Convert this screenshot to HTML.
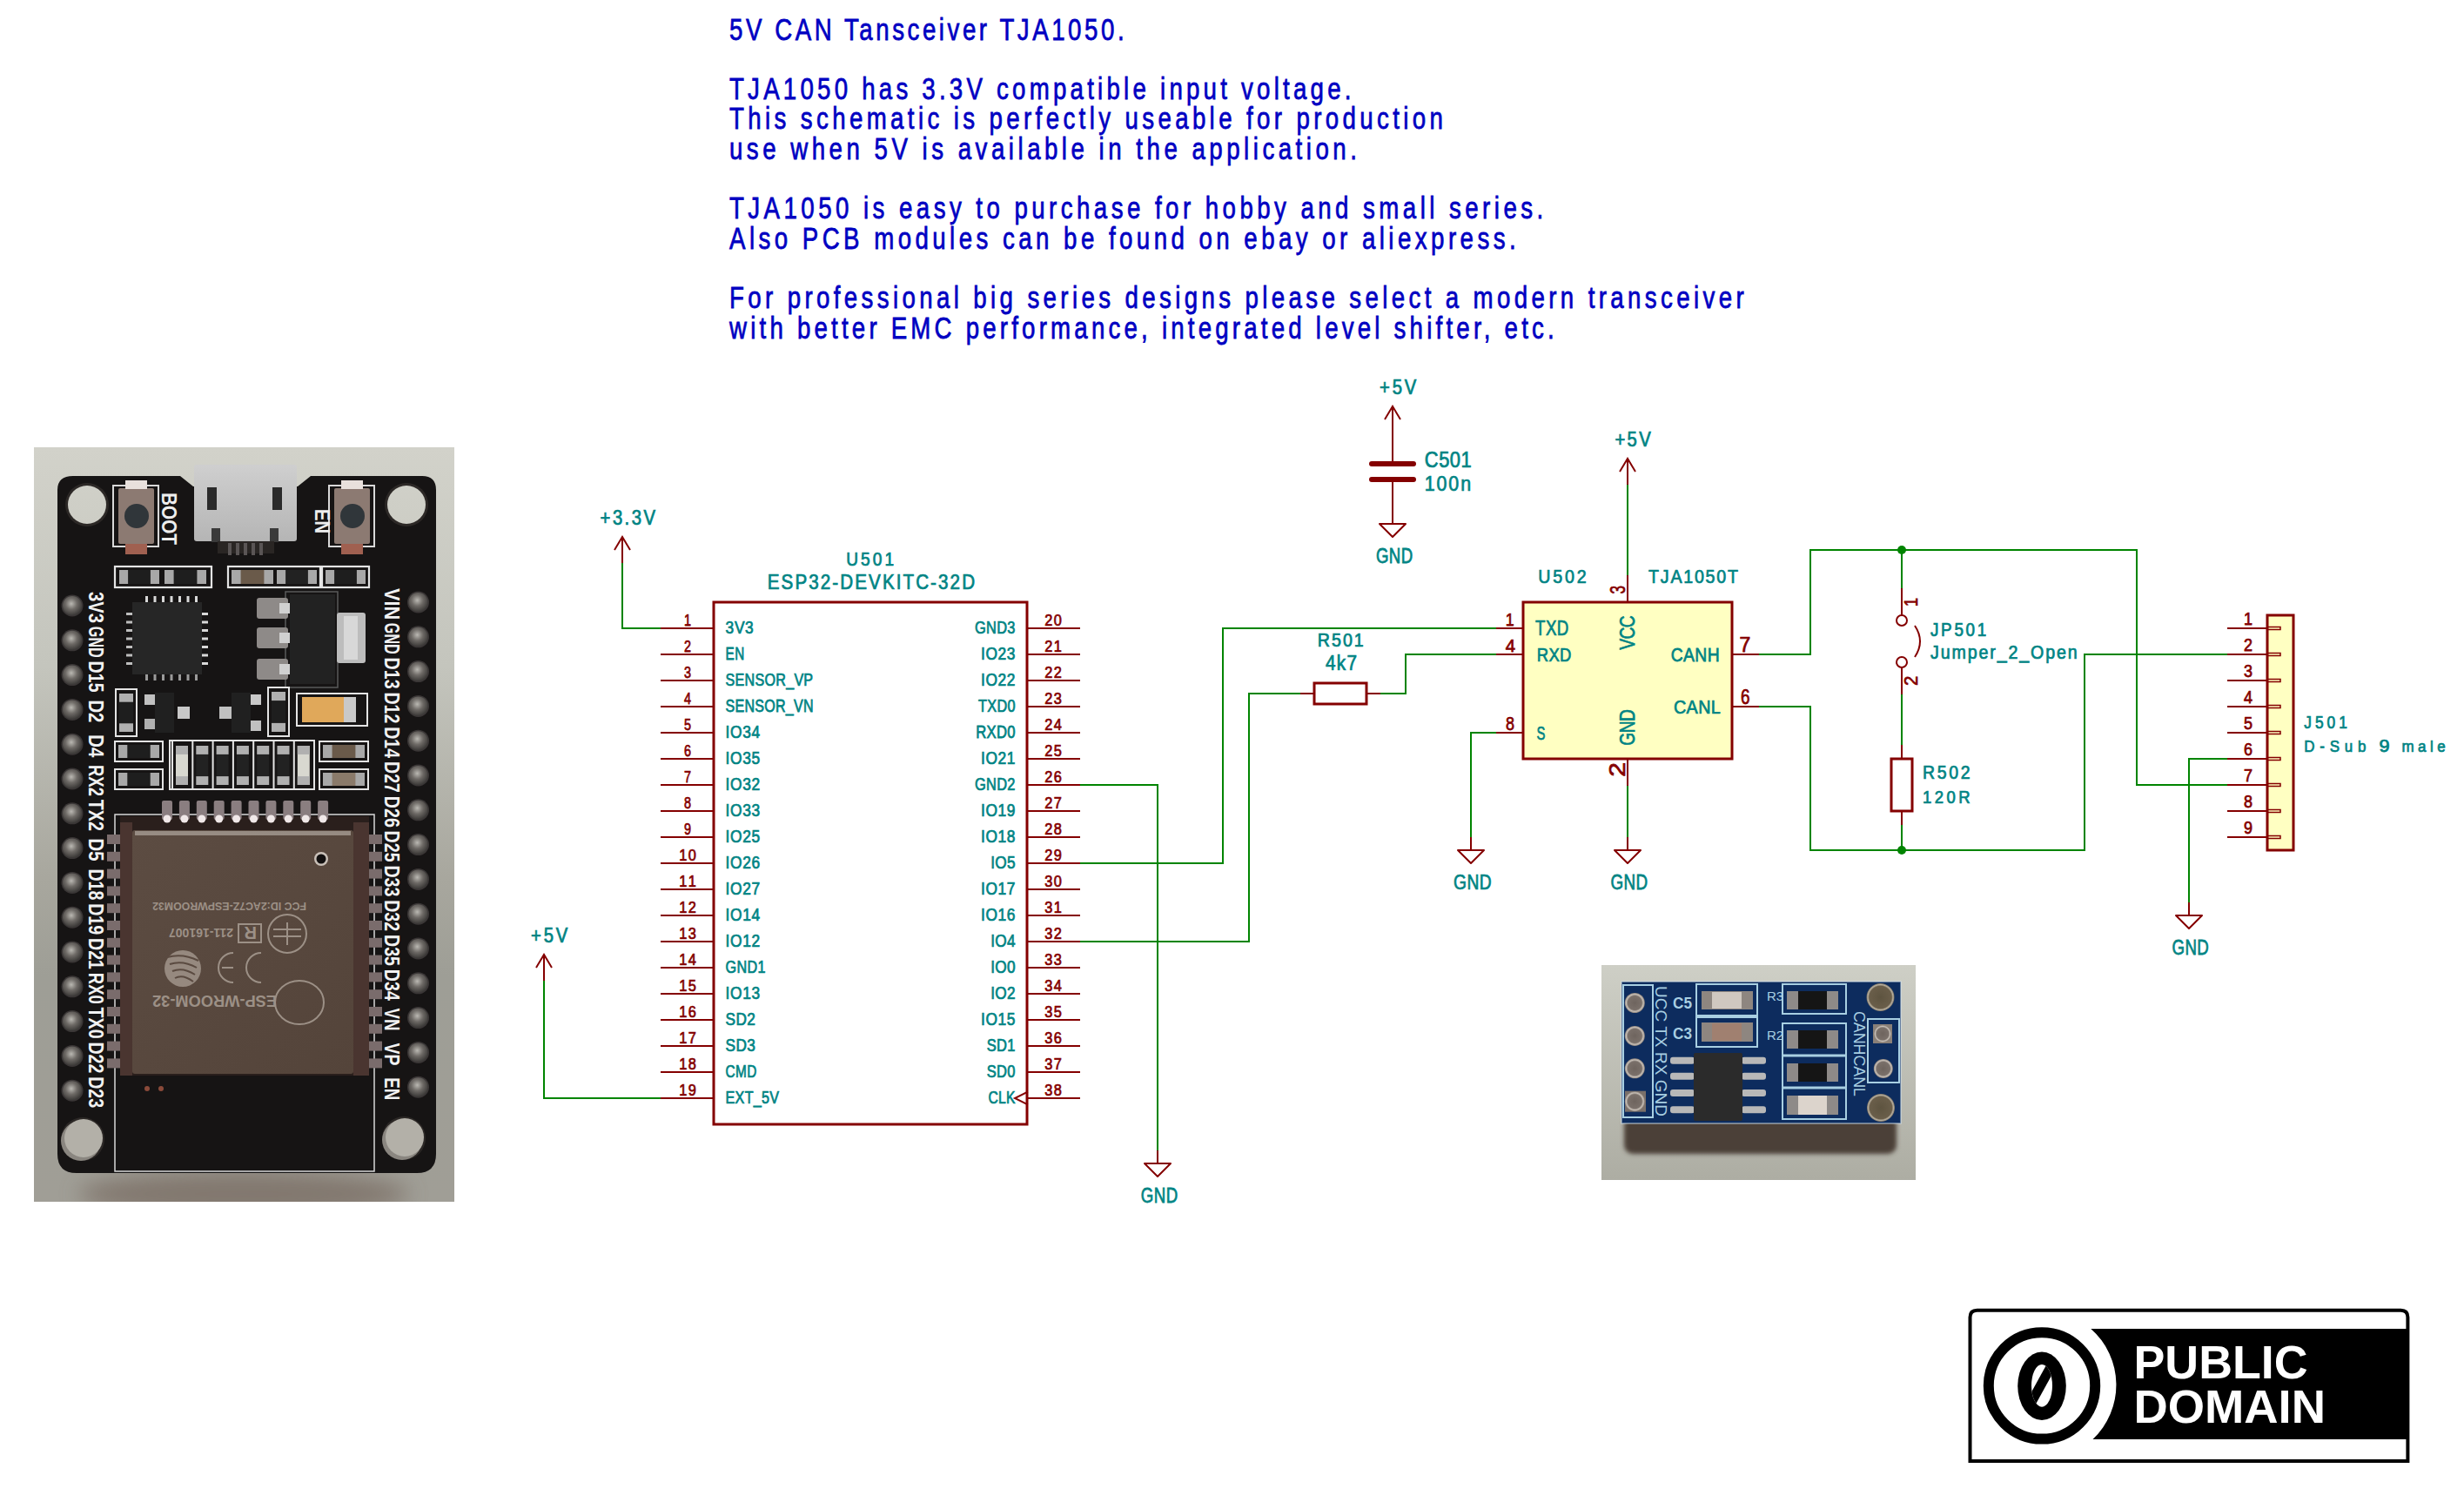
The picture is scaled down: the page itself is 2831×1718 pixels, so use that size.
<!DOCTYPE html><html><head><meta charset="utf-8"><style>html,body{margin:0;padding:0;background:#fff;width:2831px;height:1718px;overflow:hidden;position:relative}text{font-family:"Liberation Sans",sans-serif}</style></head><body><svg width="2831" height="1718" viewBox="0 0 2831 1718" style="position:absolute;left:0;top:0" font-family="Liberation Sans, sans-serif">
<rect x="0" y="0" width="2831" height="1718" fill="#ffffff"/>
<text transform="translate(838.0,45.5) scale(0.8,1)" x="0" y="0" font-size="34.57" fill="#0000C2" stroke="#0000C2" stroke-width="0.76" textLength="567.0" lengthAdjust="spacing" >5V CAN Tansceiver TJA1050.</text>
<text transform="translate(838.0,114.1) scale(0.8,1)" x="0" y="0" font-size="34.57" fill="#0000C2" stroke="#0000C2" stroke-width="0.76" textLength="893.1" lengthAdjust="spacing" >TJA1050 has 3.3V compatible input voltage.</text>
<text transform="translate(838.0,148.4) scale(0.8,1)" x="0" y="0" font-size="34.57" fill="#0000C2" stroke="#0000C2" stroke-width="0.76" textLength="1024.9" lengthAdjust="spacing" >This schematic is perfectly useable for production</text>
<text transform="translate(838.0,182.7) scale(0.8,1)" x="0" y="0" font-size="34.57" fill="#0000C2" stroke="#0000C2" stroke-width="0.76" textLength="901.1" lengthAdjust="spacing" >use when 5V is available in the application.</text>
<text transform="translate(838.0,251.3) scale(0.8,1)" x="0" y="0" font-size="34.57" fill="#0000C2" stroke="#0000C2" stroke-width="0.76" textLength="1169.0" lengthAdjust="spacing" >TJA1050 is easy to purchase for hobby and small series.</text>
<text transform="translate(838.0,285.6) scale(0.8,1)" x="0" y="0" font-size="34.57" fill="#0000C2" stroke="#0000C2" stroke-width="0.76" textLength="1129.6" lengthAdjust="spacing" >Also PCB modules can be found on ebay or aliexpress.</text>
<text transform="translate(838.0,354.2) scale(0.8,1)" x="0" y="0" font-size="34.57" fill="#0000C2" stroke="#0000C2" stroke-width="0.76" textLength="1457.1" lengthAdjust="spacing" >For professional big series designs please select a modern transceiver</text>
<text transform="translate(838.0,388.5) scale(0.8,1)" x="0" y="0" font-size="34.57" fill="#0000C2" stroke="#0000C2" stroke-width="0.76" textLength="1184.7" lengthAdjust="spacing" >with better EMC performance, integrated level shifter, etc.</text>
<polyline points="715,647 715,722 760,722" fill="none" stroke="#008400" stroke-width="2" stroke-linecap="square" stroke-linejoin="miter" />
<polyline points="625,1127 625,1262 760,1262" fill="none" stroke="#008400" stroke-width="2" stroke-linecap="square" stroke-linejoin="miter" />
<polyline points="1240,902 1330,902 1330,1322" fill="none" stroke="#008400" stroke-width="2" stroke-linecap="square" stroke-linejoin="miter" />
<polyline points="1240,992 1405,992 1405,722 1720,722" fill="none" stroke="#008400" stroke-width="2" stroke-linecap="square" stroke-linejoin="miter" />
<polyline points="1240,1082 1435,1082 1435,797 1495,797" fill="none" stroke="#008400" stroke-width="2" stroke-linecap="square" stroke-linejoin="miter" />
<polyline points="1585,797 1615,797 1615,752 1720,752" fill="none" stroke="#008400" stroke-width="2" stroke-linecap="square" stroke-linejoin="miter" />
<polyline points="1720,842 1690,842 1690,962" fill="none" stroke="#008400" stroke-width="2" stroke-linecap="square" stroke-linejoin="miter" />
<polyline points="1870,662 1870,557" fill="none" stroke="#008400" stroke-width="2" stroke-linecap="square" stroke-linejoin="miter" />
<polyline points="1870,902 1870,962" fill="none" stroke="#008400" stroke-width="2" stroke-linecap="square" stroke-linejoin="miter" />
<polyline points="2020,752 2080,752 2080,632 2455,632 2455,902 2560,902" fill="none" stroke="#008400" stroke-width="2" stroke-linecap="square" stroke-linejoin="miter" />
<polyline points="2185,632 2185,677" fill="none" stroke="#008400" stroke-width="2" stroke-linecap="square" stroke-linejoin="miter" />
<polyline points="2185,797 2185,857" fill="none" stroke="#008400" stroke-width="2" stroke-linecap="square" stroke-linejoin="miter" />
<polyline points="2185,947 2185,977" fill="none" stroke="#008400" stroke-width="2" stroke-linecap="square" stroke-linejoin="miter" />
<polyline points="2020,812 2080,812 2080,977 2395,977 2395,752 2560,752" fill="none" stroke="#008400" stroke-width="2" stroke-linecap="square" stroke-linejoin="miter" />
<polyline points="2560,872 2515,872 2515,1037" fill="none" stroke="#008400" stroke-width="2" stroke-linecap="square" stroke-linejoin="miter" />
<circle cx="2185" cy="632" r="5" fill="#008400"/>
<circle cx="2185" cy="977" r="5" fill="#008400"/>
<rect x="820" y="692" width="360" height="600" fill="none" stroke="#840000" stroke-width="3"/>
<polyline points="760,722 820,722" fill="none" stroke="#840000" stroke-width="2" stroke-linecap="square" stroke-linejoin="miter" stroke-linecap="butt"/>
<text transform="translate(833.6,727.8) scale(0.88,1)" x="0" y="0" font-size="19.71" fill="#008484" stroke="#008484" stroke-width="0.75" textLength="36.5" lengthAdjust="spacing" >3V3</text>
<text x="786.0" y="719.0" font-size="18.57" fill="#840000" stroke="#840000" stroke-width="0.75" textLength="8.0" lengthAdjust="spacingAndGlyphs" >1</text>
<polyline points="760,752 820,752" fill="none" stroke="#840000" stroke-width="2" stroke-linecap="square" stroke-linejoin="miter" stroke-linecap="butt"/>
<text transform="translate(833.6,757.8) scale(0.7729086081186185,1)" x="0" y="0" font-size="19.71" fill="#008484" stroke="#008484" stroke-width="0.75" textLength="27.9" lengthAdjust="spacing" >EN</text>
<text x="786.0" y="749.0" font-size="18.57" fill="#840000" stroke="#840000" stroke-width="0.75" textLength="8.0" lengthAdjust="spacingAndGlyphs" >2</text>
<polyline points="760,782 820,782" fill="none" stroke="#840000" stroke-width="2" stroke-linecap="square" stroke-linejoin="miter" stroke-linecap="butt"/>
<text transform="translate(833.6,787.8) scale(0.817194837637157,1)" x="0" y="0" font-size="19.71" fill="#008484" stroke="#008484" stroke-width="0.75" textLength="123.0" lengthAdjust="spacing" >SENSOR_VP</text>
<text x="786.0" y="779.0" font-size="18.57" fill="#840000" stroke="#840000" stroke-width="0.75" textLength="8.0" lengthAdjust="spacingAndGlyphs" >3</text>
<polyline points="760,812 820,812" fill="none" stroke="#840000" stroke-width="2" stroke-linecap="square" stroke-linejoin="miter" stroke-linecap="butt"/>
<text transform="translate(833.6,817.8) scale(0.8131113551104611,1)" x="0" y="0" font-size="19.71" fill="#008484" stroke="#008484" stroke-width="0.75" textLength="124.1" lengthAdjust="spacing" >SENSOR_VN</text>
<text x="786.0" y="809.0" font-size="18.57" fill="#840000" stroke="#840000" stroke-width="0.75" textLength="8.0" lengthAdjust="spacingAndGlyphs" >4</text>
<polyline points="760,842 820,842" fill="none" stroke="#840000" stroke-width="2" stroke-linecap="square" stroke-linejoin="miter" stroke-linecap="butt"/>
<text transform="translate(833.6,847.8) scale(0.88,1)" x="0" y="0" font-size="19.71" fill="#008484" stroke="#008484" stroke-width="0.75" textLength="44.9" lengthAdjust="spacing" >IO34</text>
<text x="786.0" y="839.0" font-size="18.57" fill="#840000" stroke="#840000" stroke-width="0.75" textLength="8.0" lengthAdjust="spacingAndGlyphs" >5</text>
<polyline points="760,872 820,872" fill="none" stroke="#840000" stroke-width="2" stroke-linecap="square" stroke-linejoin="miter" stroke-linecap="butt"/>
<text transform="translate(833.6,877.8) scale(0.88,1)" x="0" y="0" font-size="19.71" fill="#008484" stroke="#008484" stroke-width="0.75" textLength="44.9" lengthAdjust="spacing" >IO35</text>
<text x="786.0" y="869.0" font-size="18.57" fill="#840000" stroke="#840000" stroke-width="0.75" textLength="8.0" lengthAdjust="spacingAndGlyphs" >6</text>
<polyline points="760,902 820,902" fill="none" stroke="#840000" stroke-width="2" stroke-linecap="square" stroke-linejoin="miter" stroke-linecap="butt"/>
<text transform="translate(833.6,907.8) scale(0.88,1)" x="0" y="0" font-size="19.71" fill="#008484" stroke="#008484" stroke-width="0.75" textLength="44.9" lengthAdjust="spacing" >IO32</text>
<text x="786.0" y="899.0" font-size="18.57" fill="#840000" stroke="#840000" stroke-width="0.75" textLength="8.0" lengthAdjust="spacingAndGlyphs" >7</text>
<polyline points="760,932 820,932" fill="none" stroke="#840000" stroke-width="2" stroke-linecap="square" stroke-linejoin="miter" stroke-linecap="butt"/>
<text transform="translate(833.6,937.8) scale(0.88,1)" x="0" y="0" font-size="19.71" fill="#008484" stroke="#008484" stroke-width="0.75" textLength="44.9" lengthAdjust="spacing" >IO33</text>
<text x="786.0" y="929.0" font-size="18.57" fill="#840000" stroke="#840000" stroke-width="0.75" textLength="8.0" lengthAdjust="spacingAndGlyphs" >8</text>
<polyline points="760,962 820,962" fill="none" stroke="#840000" stroke-width="2" stroke-linecap="square" stroke-linejoin="miter" stroke-linecap="butt"/>
<text transform="translate(833.6,967.8) scale(0.88,1)" x="0" y="0" font-size="19.71" fill="#008484" stroke="#008484" stroke-width="0.75" textLength="44.9" lengthAdjust="spacing" >IO25</text>
<text x="786.0" y="959.0" font-size="18.57" fill="#840000" stroke="#840000" stroke-width="0.75" textLength="8.0" lengthAdjust="spacingAndGlyphs" >9</text>
<polyline points="760,992 820,992" fill="none" stroke="#840000" stroke-width="2" stroke-linecap="square" stroke-linejoin="miter" stroke-linecap="butt"/>
<text transform="translate(833.6,997.8) scale(0.88,1)" x="0" y="0" font-size="19.71" fill="#008484" stroke="#008484" stroke-width="0.75" textLength="44.9" lengthAdjust="spacing" >IO26</text>
<text transform="translate(780.2,989.0) scale(0.88,1)" x="0" y="0" font-size="18.57" fill="#840000" stroke="#840000" stroke-width="0.75" textLength="22.2" lengthAdjust="spacing" >10</text>
<polyline points="760,1022 820,1022" fill="none" stroke="#840000" stroke-width="2" stroke-linecap="square" stroke-linejoin="miter" stroke-linecap="butt"/>
<text transform="translate(833.6,1027.8) scale(0.88,1)" x="0" y="0" font-size="19.71" fill="#008484" stroke="#008484" stroke-width="0.75" textLength="44.9" lengthAdjust="spacing" >IO27</text>
<text transform="translate(780.2,1019.0) scale(0.88,1)" x="0" y="0" font-size="18.57" fill="#840000" stroke="#840000" stroke-width="0.75" textLength="22.2" lengthAdjust="spacing" >11</text>
<polyline points="760,1052 820,1052" fill="none" stroke="#840000" stroke-width="2" stroke-linecap="square" stroke-linejoin="miter" stroke-linecap="butt"/>
<text transform="translate(833.6,1057.8) scale(0.88,1)" x="0" y="0" font-size="19.71" fill="#008484" stroke="#008484" stroke-width="0.75" textLength="44.9" lengthAdjust="spacing" >IO14</text>
<text transform="translate(780.2,1049.0) scale(0.88,1)" x="0" y="0" font-size="18.57" fill="#840000" stroke="#840000" stroke-width="0.75" textLength="22.2" lengthAdjust="spacing" >12</text>
<polyline points="760,1082 820,1082" fill="none" stroke="#840000" stroke-width="2" stroke-linecap="square" stroke-linejoin="miter" stroke-linecap="butt"/>
<text transform="translate(833.6,1087.8) scale(0.88,1)" x="0" y="0" font-size="19.71" fill="#008484" stroke="#008484" stroke-width="0.75" textLength="44.9" lengthAdjust="spacing" >IO12</text>
<text transform="translate(780.2,1079.0) scale(0.88,1)" x="0" y="0" font-size="18.57" fill="#840000" stroke="#840000" stroke-width="0.75" textLength="22.2" lengthAdjust="spacing" >13</text>
<polyline points="760,1112 820,1112" fill="none" stroke="#840000" stroke-width="2" stroke-linecap="square" stroke-linejoin="miter" stroke-linecap="butt"/>
<text transform="translate(833.6,1117.8) scale(0.8212615811210328,1)" x="0" y="0" font-size="19.71" fill="#008484" stroke="#008484" stroke-width="0.75" textLength="55.9" lengthAdjust="spacing" >GND1</text>
<text transform="translate(780.2,1109.0) scale(0.88,1)" x="0" y="0" font-size="18.57" fill="#840000" stroke="#840000" stroke-width="0.75" textLength="22.2" lengthAdjust="spacing" >14</text>
<polyline points="760,1142 820,1142" fill="none" stroke="#840000" stroke-width="2" stroke-linecap="square" stroke-linejoin="miter" stroke-linecap="butt"/>
<text transform="translate(833.6,1147.8) scale(0.88,1)" x="0" y="0" font-size="19.71" fill="#008484" stroke="#008484" stroke-width="0.75" textLength="44.9" lengthAdjust="spacing" >IO13</text>
<text transform="translate(780.2,1139.0) scale(0.88,1)" x="0" y="0" font-size="18.57" fill="#840000" stroke="#840000" stroke-width="0.75" textLength="22.2" lengthAdjust="spacing" >15</text>
<polyline points="760,1172 820,1172" fill="none" stroke="#840000" stroke-width="2" stroke-linecap="square" stroke-linejoin="miter" stroke-linecap="butt"/>
<text transform="translate(833.6,1177.8) scale(0.8739402828706166,1)" x="0" y="0" font-size="19.71" fill="#008484" stroke="#008484" stroke-width="0.75" textLength="39.1" lengthAdjust="spacing" >SD2</text>
<text transform="translate(780.2,1169.0) scale(0.88,1)" x="0" y="0" font-size="18.57" fill="#840000" stroke="#840000" stroke-width="0.75" textLength="22.2" lengthAdjust="spacing" >16</text>
<polyline points="760,1202 820,1202" fill="none" stroke="#840000" stroke-width="2" stroke-linecap="square" stroke-linejoin="miter" stroke-linecap="butt"/>
<text transform="translate(833.6,1207.8) scale(0.8739402828706166,1)" x="0" y="0" font-size="19.71" fill="#008484" stroke="#008484" stroke-width="0.75" textLength="39.1" lengthAdjust="spacing" >SD3</text>
<text transform="translate(780.2,1199.0) scale(0.88,1)" x="0" y="0" font-size="18.57" fill="#840000" stroke="#840000" stroke-width="0.75" textLength="22.2" lengthAdjust="spacing" >17</text>
<polyline points="760,1232 820,1232" fill="none" stroke="#840000" stroke-width="2" stroke-linecap="square" stroke-linejoin="miter" stroke-linecap="butt"/>
<text transform="translate(833.6,1237.8) scale(0.7792640763666229,1)" x="0" y="0" font-size="19.71" fill="#008484" stroke="#008484" stroke-width="0.75" textLength="45.8" lengthAdjust="spacing" >CMD</text>
<text transform="translate(780.2,1229.0) scale(0.88,1)" x="0" y="0" font-size="18.57" fill="#840000" stroke="#840000" stroke-width="0.75" textLength="22.2" lengthAdjust="spacing" >18</text>
<polyline points="760,1262 820,1262" fill="none" stroke="#840000" stroke-width="2" stroke-linecap="square" stroke-linejoin="miter" stroke-linecap="butt"/>
<text transform="translate(833.6,1267.8) scale(0.819589601020588,1)" x="0" y="0" font-size="19.71" fill="#008484" stroke="#008484" stroke-width="0.75" textLength="74.9" lengthAdjust="spacing" >EXT_5V</text>
<text transform="translate(780.2,1259.0) scale(0.88,1)" x="0" y="0" font-size="18.57" fill="#840000" stroke="#840000" stroke-width="0.75" textLength="22.2" lengthAdjust="spacing" >19</text>
<polyline points="1180,722 1240,722" fill="none" stroke="#840000" stroke-width="2" stroke-linecap="square" stroke-linejoin="miter" stroke-linecap="butt"/>
<text transform="translate(1120.0,727.8) scale(0.8319970266258833,1)" x="0" y="0" font-size="19.71" fill="#008484" stroke="#008484" stroke-width="0.75" textLength="55.9" lengthAdjust="spacing" >GND3</text>
<text transform="translate(1200.2,719.0) scale(0.88,1)" x="0" y="0" font-size="18.57" fill="#840000" stroke="#840000" stroke-width="0.75" textLength="22.2" lengthAdjust="spacing" >20</text>
<polyline points="1180,752 1240,752" fill="none" stroke="#840000" stroke-width="2" stroke-linecap="square" stroke-linejoin="miter" stroke-linecap="butt"/>
<text transform="translate(1127.0,757.8) scale(0.88,1)" x="0" y="0" font-size="19.71" fill="#008484" stroke="#008484" stroke-width="0.75" textLength="44.9" lengthAdjust="spacing" >IO23</text>
<text transform="translate(1200.2,749.0) scale(0.88,1)" x="0" y="0" font-size="18.57" fill="#840000" stroke="#840000" stroke-width="0.75" textLength="22.2" lengthAdjust="spacing" >21</text>
<polyline points="1180,782 1240,782" fill="none" stroke="#840000" stroke-width="2" stroke-linecap="square" stroke-linejoin="miter" stroke-linecap="butt"/>
<text transform="translate(1127.0,787.8) scale(0.88,1)" x="0" y="0" font-size="19.71" fill="#008484" stroke="#008484" stroke-width="0.75" textLength="44.9" lengthAdjust="spacing" >IO22</text>
<text transform="translate(1200.2,779.0) scale(0.88,1)" x="0" y="0" font-size="18.57" fill="#840000" stroke="#840000" stroke-width="0.75" textLength="22.2" lengthAdjust="spacing" >22</text>
<polyline points="1180,812 1240,812" fill="none" stroke="#840000" stroke-width="2" stroke-linecap="square" stroke-linejoin="miter" stroke-linecap="butt"/>
<text transform="translate(1124.1,817.8) scale(0.8245824883878173,1)" x="0" y="0" font-size="19.71" fill="#008484" stroke="#008484" stroke-width="0.75" textLength="51.4" lengthAdjust="spacing" >TXD0</text>
<text transform="translate(1200.2,809.0) scale(0.88,1)" x="0" y="0" font-size="18.57" fill="#840000" stroke="#840000" stroke-width="0.75" textLength="22.2" lengthAdjust="spacing" >23</text>
<polyline points="1180,842 1240,842" fill="none" stroke="#840000" stroke-width="2" stroke-linecap="square" stroke-linejoin="miter" stroke-linecap="butt"/>
<text transform="translate(1121.2,847.8) scale(0.8441872784320136,1)" x="0" y="0" font-size="19.71" fill="#008484" stroke="#008484" stroke-width="0.75" textLength="53.7" lengthAdjust="spacing" >RXD0</text>
<text transform="translate(1200.2,839.0) scale(0.88,1)" x="0" y="0" font-size="18.57" fill="#840000" stroke="#840000" stroke-width="0.75" textLength="22.2" lengthAdjust="spacing" >24</text>
<polyline points="1180,872 1240,872" fill="none" stroke="#840000" stroke-width="2" stroke-linecap="square" stroke-linejoin="miter" stroke-linecap="butt"/>
<text transform="translate(1127.0,877.8) scale(0.88,1)" x="0" y="0" font-size="19.71" fill="#008484" stroke="#008484" stroke-width="0.75" textLength="44.9" lengthAdjust="spacing" >IO21</text>
<text transform="translate(1200.2,869.0) scale(0.88,1)" x="0" y="0" font-size="18.57" fill="#840000" stroke="#840000" stroke-width="0.75" textLength="22.2" lengthAdjust="spacing" >25</text>
<polyline points="1180,902 1240,902" fill="none" stroke="#840000" stroke-width="2" stroke-linecap="square" stroke-linejoin="miter" stroke-linecap="butt"/>
<text transform="translate(1120.0,907.8) scale(0.8319970266258833,1)" x="0" y="0" font-size="19.71" fill="#008484" stroke="#008484" stroke-width="0.75" textLength="55.9" lengthAdjust="spacing" >GND2</text>
<text transform="translate(1200.2,899.0) scale(0.88,1)" x="0" y="0" font-size="18.57" fill="#840000" stroke="#840000" stroke-width="0.75" textLength="22.2" lengthAdjust="spacing" >26</text>
<polyline points="1180,932 1240,932" fill="none" stroke="#840000" stroke-width="2" stroke-linecap="square" stroke-linejoin="miter" stroke-linecap="butt"/>
<text transform="translate(1127.0,937.8) scale(0.88,1)" x="0" y="0" font-size="19.71" fill="#008484" stroke="#008484" stroke-width="0.75" textLength="44.9" lengthAdjust="spacing" >IO19</text>
<text transform="translate(1200.2,929.0) scale(0.88,1)" x="0" y="0" font-size="18.57" fill="#840000" stroke="#840000" stroke-width="0.75" textLength="22.2" lengthAdjust="spacing" >27</text>
<polyline points="1180,962 1240,962" fill="none" stroke="#840000" stroke-width="2" stroke-linecap="square" stroke-linejoin="miter" stroke-linecap="butt"/>
<text transform="translate(1127.0,967.8) scale(0.88,1)" x="0" y="0" font-size="19.71" fill="#008484" stroke="#008484" stroke-width="0.75" textLength="44.9" lengthAdjust="spacing" >IO18</text>
<text transform="translate(1200.2,959.0) scale(0.88,1)" x="0" y="0" font-size="18.57" fill="#840000" stroke="#840000" stroke-width="0.75" textLength="22.2" lengthAdjust="spacing" >28</text>
<polyline points="1180,992 1240,992" fill="none" stroke="#840000" stroke-width="2" stroke-linecap="square" stroke-linejoin="miter" stroke-linecap="butt"/>
<text transform="translate(1138.2,997.8) scale(0.8728552059404147,1)" x="0" y="0" font-size="19.71" fill="#008484" stroke="#008484" stroke-width="0.75" textLength="32.4" lengthAdjust="spacing" >IO5</text>
<text transform="translate(1200.2,989.0) scale(0.88,1)" x="0" y="0" font-size="18.57" fill="#840000" stroke="#840000" stroke-width="0.75" textLength="22.2" lengthAdjust="spacing" >29</text>
<polyline points="1180,1022 1240,1022" fill="none" stroke="#840000" stroke-width="2" stroke-linecap="square" stroke-linejoin="miter" stroke-linecap="butt"/>
<text transform="translate(1127.0,1027.8) scale(0.88,1)" x="0" y="0" font-size="19.71" fill="#008484" stroke="#008484" stroke-width="0.75" textLength="44.9" lengthAdjust="spacing" >IO17</text>
<text transform="translate(1200.2,1019.0) scale(0.88,1)" x="0" y="0" font-size="18.57" fill="#840000" stroke="#840000" stroke-width="0.75" textLength="22.2" lengthAdjust="spacing" >30</text>
<polyline points="1180,1052 1240,1052" fill="none" stroke="#840000" stroke-width="2" stroke-linecap="square" stroke-linejoin="miter" stroke-linecap="butt"/>
<text transform="translate(1127.0,1057.8) scale(0.88,1)" x="0" y="0" font-size="19.71" fill="#008484" stroke="#008484" stroke-width="0.75" textLength="44.9" lengthAdjust="spacing" >IO16</text>
<text transform="translate(1200.2,1049.0) scale(0.88,1)" x="0" y="0" font-size="18.57" fill="#840000" stroke="#840000" stroke-width="0.75" textLength="22.2" lengthAdjust="spacing" >31</text>
<polyline points="1180,1082 1240,1082" fill="none" stroke="#840000" stroke-width="2" stroke-linecap="square" stroke-linejoin="miter" stroke-linecap="butt"/>
<text transform="translate(1138.2,1087.8) scale(0.8728552059404147,1)" x="0" y="0" font-size="19.71" fill="#008484" stroke="#008484" stroke-width="0.75" textLength="32.4" lengthAdjust="spacing" >IO4</text>
<text transform="translate(1200.2,1079.0) scale(0.88,1)" x="0" y="0" font-size="18.57" fill="#840000" stroke="#840000" stroke-width="0.75" textLength="22.2" lengthAdjust="spacing" >32</text>
<polyline points="1180,1112 1240,1112" fill="none" stroke="#840000" stroke-width="2" stroke-linecap="square" stroke-linejoin="miter" stroke-linecap="butt"/>
<text transform="translate(1138.2,1117.8) scale(0.8728552059404147,1)" x="0" y="0" font-size="19.71" fill="#008484" stroke="#008484" stroke-width="0.75" textLength="32.4" lengthAdjust="spacing" >IO0</text>
<text transform="translate(1200.2,1109.0) scale(0.88,1)" x="0" y="0" font-size="18.57" fill="#840000" stroke="#840000" stroke-width="0.75" textLength="22.2" lengthAdjust="spacing" >33</text>
<polyline points="1180,1142 1240,1142" fill="none" stroke="#840000" stroke-width="2" stroke-linecap="square" stroke-linejoin="miter" stroke-linecap="butt"/>
<text transform="translate(1138.2,1147.8) scale(0.8728552059404147,1)" x="0" y="0" font-size="19.71" fill="#008484" stroke="#008484" stroke-width="0.75" textLength="32.4" lengthAdjust="spacing" >IO2</text>
<text transform="translate(1200.2,1139.0) scale(0.88,1)" x="0" y="0" font-size="18.57" fill="#840000" stroke="#840000" stroke-width="0.75" textLength="22.2" lengthAdjust="spacing" >34</text>
<polyline points="1180,1172 1240,1172" fill="none" stroke="#840000" stroke-width="2" stroke-linecap="square" stroke-linejoin="miter" stroke-linecap="butt"/>
<text transform="translate(1127.0,1177.8) scale(0.88,1)" x="0" y="0" font-size="19.71" fill="#008484" stroke="#008484" stroke-width="0.75" textLength="44.9" lengthAdjust="spacing" >IO15</text>
<text transform="translate(1200.2,1169.0) scale(0.88,1)" x="0" y="0" font-size="18.57" fill="#840000" stroke="#840000" stroke-width="0.75" textLength="22.2" lengthAdjust="spacing" >35</text>
<polyline points="1180,1202 1240,1202" fill="none" stroke="#840000" stroke-width="2" stroke-linecap="square" stroke-linejoin="miter" stroke-linecap="butt"/>
<text transform="translate(1133.8,1207.8) scale(0.8356095687096248,1)" x="0" y="0" font-size="19.71" fill="#008484" stroke="#008484" stroke-width="0.75" textLength="39.1" lengthAdjust="spacing" >SD1</text>
<text transform="translate(1200.2,1199.0) scale(0.88,1)" x="0" y="0" font-size="18.57" fill="#840000" stroke="#840000" stroke-width="0.75" textLength="22.2" lengthAdjust="spacing" >36</text>
<polyline points="1180,1232 1240,1232" fill="none" stroke="#840000" stroke-width="2" stroke-linecap="square" stroke-linejoin="miter" stroke-linecap="butt"/>
<text transform="translate(1133.8,1237.8) scale(0.8356095687096248,1)" x="0" y="0" font-size="19.71" fill="#008484" stroke="#008484" stroke-width="0.75" textLength="39.1" lengthAdjust="spacing" >SD0</text>
<text transform="translate(1200.2,1229.0) scale(0.88,1)" x="0" y="0" font-size="18.57" fill="#840000" stroke="#840000" stroke-width="0.75" textLength="22.2" lengthAdjust="spacing" >37</text>
<polyline points="1180,1262 1240,1262" fill="none" stroke="#840000" stroke-width="2" stroke-linecap="square" stroke-linejoin="miter" stroke-linecap="butt"/>
<text transform="translate(1135.5,1267.8) scale(0.7921680926604995,1)" x="0" y="0" font-size="19.71" fill="#008484" stroke="#008484" stroke-width="0.75" textLength="39.1" lengthAdjust="spacing" >CLK</text>
<text transform="translate(1200.2,1259.0) scale(0.88,1)" x="0" y="0" font-size="18.57" fill="#840000" stroke="#840000" stroke-width="0.75" textLength="22.2" lengthAdjust="spacing" >38</text>
<polyline points="1180,1255 1166,1262 1180,1269" fill="none" stroke="#840000" stroke-width="2" stroke-linecap="square" stroke-linejoin="miter" stroke-linecap="butt"/>
<text transform="translate(972.2,649.7) scale(0.88,1)" x="0" y="0" font-size="21.71" fill="#008484" stroke="#008484" stroke-width="0.75" textLength="62.4" lengthAdjust="spacing" >U501</text>
<text transform="translate(881.8,676.9) scale(0.88,1)" x="0" y="0" font-size="23.43" fill="#008484" stroke="#008484" stroke-width="0.75" textLength="270.7" lengthAdjust="spacing" >ESP32-DEVKITC-32D</text>
<rect x="1750" y="692" width="240" height="180" fill="#FFFFC2" stroke="#840000" stroke-width="3"/>
<polyline points="1720,722 1750,722" fill="none" stroke="#840000" stroke-width="2" stroke-linecap="square" stroke-linejoin="miter" stroke-linecap="butt"/>
<polyline points="1720,752 1750,752" fill="none" stroke="#840000" stroke-width="2" stroke-linecap="square" stroke-linejoin="miter" stroke-linecap="butt"/>
<polyline points="1720,842 1750,842" fill="none" stroke="#840000" stroke-width="2" stroke-linecap="square" stroke-linejoin="miter" stroke-linecap="butt"/>
<polyline points="1990,752 2020,752" fill="none" stroke="#840000" stroke-width="2" stroke-linecap="square" stroke-linejoin="miter" stroke-linecap="butt"/>
<polyline points="1990,812 2020,812" fill="none" stroke="#840000" stroke-width="2" stroke-linecap="square" stroke-linejoin="miter" stroke-linecap="butt"/>
<polyline points="1870,662 1870,692" fill="none" stroke="#840000" stroke-width="2" stroke-linecap="square" stroke-linejoin="miter" stroke-linecap="butt"/>
<polyline points="1870,872 1870,902" fill="none" stroke="#840000" stroke-width="2" stroke-linecap="square" stroke-linejoin="miter" stroke-linecap="butt"/>
<text transform="translate(1767.3,669.7) scale(0.88,1)" x="0" y="0" font-size="22.29" fill="#008484" stroke="#008484" stroke-width="0.75" textLength="63.0" lengthAdjust="spacing" >U502</text>
<text transform="translate(1894.1,669.7) scale(0.88,1)" x="0" y="0" font-size="22.29" fill="#008484" stroke="#008484" stroke-width="0.75" textLength="116.8" lengthAdjust="spacing" >TJA1050T</text>
<text transform="translate(1764.1,729.9) scale(0.775301775147931,1)" x="0" y="0" font-size="24.14" fill="#008484" stroke="#008484" stroke-width="0.75" textLength="49.3" lengthAdjust="spacing" >TXD</text>
<text transform="translate(1765.7,759.6) scale(0.8081935913564706,1)" x="0" y="0" font-size="22.86" fill="#008484" stroke="#008484" stroke-width="0.75" textLength="49.2" lengthAdjust="spacing" >RXD</text>
<text x="1765.4" y="849.5" font-size="22.86" fill="#008484" stroke="#008484" stroke-width="0.75" textLength="9.9" lengthAdjust="spacingAndGlyphs" >S</text>
<text transform="translate(1919.8,759.6) scale(0.8675085010568881,1)" x="0" y="0" font-size="22.29" fill="#008484" stroke="#008484" stroke-width="0.75" textLength="64.4" lengthAdjust="spacing" >CANH</text>
<text transform="translate(1923.0,819.5) scale(0.88,1)" x="0" y="0" font-size="22.43" fill="#008484" stroke="#008484" stroke-width="0.75" textLength="61.1" lengthAdjust="spacing" >CANL</text>
<text transform="translate(1878.0,746.8) rotate(-90) scale(0.8,1)" x="0" y="0" font-size="24.00" fill="#008484" stroke="#008484" stroke-width="0.75" textLength="49.2" lengthAdjust="spacing">VCC</text>
<text transform="translate(1878.0,856.7) rotate(-90) scale(0.8,1)" x="0" y="0" font-size="24.00" fill="#008484" stroke="#008484" stroke-width="0.75" textLength="52.1" lengthAdjust="spacing">GND</text>
<text x="1729.7" y="718.6" font-size="20.86" fill="#840000" stroke="#840000" stroke-width="0.75" textLength="9.9" lengthAdjust="spacingAndGlyphs" >1</text>
<text x="1729.7" y="748.8" font-size="20.71" fill="#840000" stroke="#840000" stroke-width="0.75" textLength="11.3" lengthAdjust="spacingAndGlyphs" >4</text>
<text x="1730.0" y="838.5" font-size="21.57" fill="#840000" stroke="#840000" stroke-width="0.75" textLength="10.0" lengthAdjust="spacingAndGlyphs" >8</text>
<text x="1998.5" y="749.2" font-size="24.14" fill="#840000" stroke="#840000" stroke-width="0.75" textLength="12.8" lengthAdjust="spacingAndGlyphs" >7</text>
<text x="2000.0" y="808.6" font-size="23.00" fill="#840000" stroke="#840000" stroke-width="0.75" textLength="10.5" lengthAdjust="spacingAndGlyphs" >6</text>
<text transform="translate(1866.8,682.5) rotate(-90)" x="0" y="0" font-size="24.00" fill="#840000" stroke="#840000" stroke-width="0.75" textLength="9.6" lengthAdjust="spacingAndGlyphs">3</text>
<text transform="translate(1867.0,892.7) rotate(-90)" x="0" y="0" font-size="25.00" fill="#840000" stroke="#840000" stroke-width="0.75" textLength="16.7" lengthAdjust="spacingAndGlyphs">2</text>
<line x1="1600" y1="497" x2="1600" y2="533" stroke="#840000" stroke-width="2"/>
<line x1="1600" y1="551" x2="1600" y2="587" stroke="#840000" stroke-width="2"/>
<line x1="1576" y1="533" x2="1624" y2="533" stroke="#840000" stroke-width="6" stroke-linecap="round"/>
<line x1="1576" y1="551" x2="1624" y2="551" stroke="#840000" stroke-width="6" stroke-linecap="round"/>
<text transform="translate(1636.8,536.9) scale(0.88,1)" x="0" y="0" font-size="24.86" fill="#008484" stroke="#008484" stroke-width="0.75" textLength="61.3" lengthAdjust="spacing" >C501</text>
<text transform="translate(1636.8,563.5) scale(0.88,1)" x="0" y="0" font-size="24.29" fill="#008484" stroke="#008484" stroke-width="0.75" textLength="60.5" lengthAdjust="spacing" >100n</text>
<rect x="1510" y="785" width="60" height="24" fill="none" stroke="#840000" stroke-width="3"/>
<polyline points="1495,797 1510,797" fill="none" stroke="#840000" stroke-width="2" stroke-linecap="square" stroke-linejoin="miter" stroke-linecap="butt"/>
<polyline points="1570,797 1585,797" fill="none" stroke="#840000" stroke-width="2" stroke-linecap="square" stroke-linejoin="miter" stroke-linecap="butt"/>
<text transform="translate(1513.8,743.0) scale(0.88,1)" x="0" y="0" font-size="22.29" fill="#008484" stroke="#008484" stroke-width="0.75" textLength="60.2" lengthAdjust="spacing" >R501</text>
<text transform="translate(1522.9,770.0) scale(0.88,1)" x="0" y="0" font-size="23.57" fill="#008484" stroke="#008484" stroke-width="0.75" textLength="41.0" lengthAdjust="spacing" >4k7</text>
<rect x="2173" y="872" width="24" height="60" fill="none" stroke="#840000" stroke-width="3"/>
<polyline points="2185,857 2185,872" fill="none" stroke="#840000" stroke-width="2" stroke-linecap="square" stroke-linejoin="miter" stroke-linecap="butt"/>
<polyline points="2185,932 2185,947" fill="none" stroke="#840000" stroke-width="2" stroke-linecap="square" stroke-linejoin="miter" stroke-linecap="butt"/>
<text transform="translate(2209.1,895.2) scale(0.88,1)" x="0" y="0" font-size="22.14" fill="#008484" stroke="#008484" stroke-width="0.75" textLength="61.8" lengthAdjust="spacing" >R502</text>
<text transform="translate(2209.1,922.5) scale(0.88,1)" x="0" y="0" font-size="21.00" fill="#008484" stroke="#008484" stroke-width="0.75" textLength="61.8" lengthAdjust="spacing" >120R</text>
<polyline points="2185,677 2185,707" fill="none" stroke="#840000" stroke-width="2" stroke-linecap="square" stroke-linejoin="miter" stroke-linecap="butt"/>
<polyline points="2185,767 2185,797" fill="none" stroke="#840000" stroke-width="2" stroke-linecap="square" stroke-linejoin="miter" stroke-linecap="butt"/>
<circle cx="2185" cy="713" r="6" fill="none" stroke="#840000" stroke-width="2"/>
<circle cx="2185" cy="761" r="6" fill="none" stroke="#840000" stroke-width="2"/>
<path d="M2200,719 Q2212,737 2200,755" fill="none" stroke="#840000" stroke-width="2"/>
<text transform="translate(2202.7,697.0) rotate(-90)" x="0" y="0" font-size="22.43" fill="#840000" stroke="#840000" stroke-width="0.75" textLength="10.0" lengthAdjust="spacingAndGlyphs">1</text>
<text transform="translate(2202.7,787.9) rotate(-90)" x="0" y="0" font-size="22.43" fill="#840000" stroke="#840000" stroke-width="0.75" textLength="11.3" lengthAdjust="spacingAndGlyphs">2</text>
<text transform="translate(2218.0,730.6) scale(0.88,1)" x="0" y="0" font-size="21.43" fill="#008484" stroke="#008484" stroke-width="0.75" textLength="73.0" lengthAdjust="spacing" >JP501</text>
<text transform="translate(2218.0,757.4) scale(0.88,1)" x="0" y="0" font-size="22.29" fill="#008484" stroke="#008484" stroke-width="0.75" textLength="191.6" lengthAdjust="spacing" >Jumper_2_Open</text>
<rect x="2605" y="707" width="30" height="270" fill="#FFFFC2" stroke="#840000" stroke-width="3"/>
<polyline points="2560,722 2605,722" fill="none" stroke="#840000" stroke-width="2" stroke-linecap="square" stroke-linejoin="miter" stroke-linecap="butt"/>
<rect x="2605" y="720.5" width="15" height="3" fill="none" stroke="#840000" stroke-width="1.5"/>
<text x="2578.0" y="718.3" font-size="19.71" fill="#840000" stroke="#840000" stroke-width="0.75" textLength="10.0" lengthAdjust="spacingAndGlyphs" >1</text>
<polyline points="2560,752 2605,752" fill="none" stroke="#840000" stroke-width="2" stroke-linecap="square" stroke-linejoin="miter" stroke-linecap="butt"/>
<rect x="2605" y="750.5" width="15" height="3" fill="none" stroke="#840000" stroke-width="1.5"/>
<text x="2578.0" y="748.3" font-size="19.71" fill="#840000" stroke="#840000" stroke-width="0.75" textLength="10.0" lengthAdjust="spacingAndGlyphs" >2</text>
<polyline points="2560,782 2605,782" fill="none" stroke="#840000" stroke-width="2" stroke-linecap="square" stroke-linejoin="miter" stroke-linecap="butt"/>
<rect x="2605" y="780.5" width="15" height="3" fill="none" stroke="#840000" stroke-width="1.5"/>
<text x="2578.0" y="778.3" font-size="19.71" fill="#840000" stroke="#840000" stroke-width="0.75" textLength="10.0" lengthAdjust="spacingAndGlyphs" >3</text>
<polyline points="2560,812 2605,812" fill="none" stroke="#840000" stroke-width="2" stroke-linecap="square" stroke-linejoin="miter" stroke-linecap="butt"/>
<rect x="2605" y="810.5" width="15" height="3" fill="none" stroke="#840000" stroke-width="1.5"/>
<text x="2578.0" y="808.3" font-size="19.71" fill="#840000" stroke="#840000" stroke-width="0.75" textLength="10.0" lengthAdjust="spacingAndGlyphs" >4</text>
<polyline points="2560,842 2605,842" fill="none" stroke="#840000" stroke-width="2" stroke-linecap="square" stroke-linejoin="miter" stroke-linecap="butt"/>
<rect x="2605" y="840.5" width="15" height="3" fill="none" stroke="#840000" stroke-width="1.5"/>
<text x="2578.0" y="838.3" font-size="19.71" fill="#840000" stroke="#840000" stroke-width="0.75" textLength="10.0" lengthAdjust="spacingAndGlyphs" >5</text>
<polyline points="2560,872 2605,872" fill="none" stroke="#840000" stroke-width="2" stroke-linecap="square" stroke-linejoin="miter" stroke-linecap="butt"/>
<rect x="2605" y="870.5" width="15" height="3" fill="none" stroke="#840000" stroke-width="1.5"/>
<text x="2578.0" y="868.3" font-size="19.71" fill="#840000" stroke="#840000" stroke-width="0.75" textLength="10.0" lengthAdjust="spacingAndGlyphs" >6</text>
<polyline points="2560,902 2605,902" fill="none" stroke="#840000" stroke-width="2" stroke-linecap="square" stroke-linejoin="miter" stroke-linecap="butt"/>
<rect x="2605" y="900.5" width="15" height="3" fill="none" stroke="#840000" stroke-width="1.5"/>
<text x="2578.0" y="898.3" font-size="19.71" fill="#840000" stroke="#840000" stroke-width="0.75" textLength="10.0" lengthAdjust="spacingAndGlyphs" >7</text>
<polyline points="2560,932 2605,932" fill="none" stroke="#840000" stroke-width="2" stroke-linecap="square" stroke-linejoin="miter" stroke-linecap="butt"/>
<rect x="2605" y="930.5" width="15" height="3" fill="none" stroke="#840000" stroke-width="1.5"/>
<text x="2578.0" y="928.3" font-size="19.71" fill="#840000" stroke="#840000" stroke-width="0.75" textLength="10.0" lengthAdjust="spacingAndGlyphs" >8</text>
<polyline points="2560,962 2605,962" fill="none" stroke="#840000" stroke-width="2" stroke-linecap="square" stroke-linejoin="miter" stroke-linecap="butt"/>
<rect x="2605" y="960.5" width="15" height="3" fill="none" stroke="#840000" stroke-width="1.5"/>
<text x="2578.0" y="958.3" font-size="19.71" fill="#840000" stroke="#840000" stroke-width="0.75" textLength="10.0" lengthAdjust="spacingAndGlyphs" >9</text>
<text transform="translate(2647.2,836.8) scale(0.88,1)" x="0" y="0" font-size="19.71" fill="#008484" stroke="#008484" stroke-width="0.75" textLength="56.5" lengthAdjust="spacing" >J501</text>
<text transform="translate(2647.2,864.1) scale(0.88,1)" x="0" y="0" font-size="19.29" fill="#008484" stroke="#008484" stroke-width="0.75" textLength="81.0" lengthAdjust="spacing" >D-Sub</text>
<text x="2733.5" y="864.1" font-size="19.29" fill="#008484" stroke="#008484" stroke-width="0.75" textLength="12.1" lengthAdjust="spacingAndGlyphs" >9</text>
<text transform="translate(2759.4,864.1) scale(0.88,1)" x="0" y="0" font-size="19.29" fill="#008484" stroke="#008484" stroke-width="0.75" textLength="57.2" lengthAdjust="spacing" >male</text>
<polyline points="715,647 715,617" fill="none" stroke="#840000" stroke-width="2"/>
<polyline points="706,632 715,617 724,632" fill="none" stroke="#840000" stroke-width="2"/>
<text transform="translate(689.6,603.3) scale(0.88,1)" x="0" y="0" font-size="23.00" fill="#008484" stroke="#008484" stroke-width="0.75" textLength="72.0" lengthAdjust="spacing" >+3.3V</text>
<polyline points="625,1127 625,1097" fill="none" stroke="#840000" stroke-width="2"/>
<polyline points="616,1112 625,1097 634,1112" fill="none" stroke="#840000" stroke-width="2"/>
<text transform="translate(610.1,1083.3) scale(0.88,1)" x="0" y="0" font-size="23.00" fill="#008484" stroke="#008484" stroke-width="0.75" textLength="47.8" lengthAdjust="spacing" >+5V</text>
<polyline points="1600,497 1600,467" fill="none" stroke="#840000" stroke-width="2"/>
<polyline points="1591,482 1600,467 1609,482" fill="none" stroke="#840000" stroke-width="2"/>
<text transform="translate(1585.0,453.3) scale(0.88,1)" x="0" y="0" font-size="23.00" fill="#008484" stroke="#008484" stroke-width="0.75" textLength="48.1" lengthAdjust="spacing" >+5V</text>
<polyline points="1870,557 1870,527" fill="none" stroke="#840000" stroke-width="2"/>
<polyline points="1861,542 1870,527 1879,542" fill="none" stroke="#840000" stroke-width="2"/>
<text transform="translate(1855.4,513.3) scale(0.88,1)" x="0" y="0" font-size="23.00" fill="#008484" stroke="#008484" stroke-width="0.75" textLength="47.0" lengthAdjust="spacing" >+5V</text>
<polyline points="1600,587 1600,602 1615,602 1600,617 1585,602 1600,602" fill="none" stroke="#840000" stroke-width="2" stroke-linejoin="round"/>
<text transform="translate(1580.9,646.6) scale(0.8091517734312377,1)" x="0" y="0" font-size="23.00" fill="#008484" stroke="#008484" stroke-width="0.75" textLength="52.2" lengthAdjust="spacing" >GND</text>
<polyline points="1330,1322 1330,1337 1345,1337 1330,1352 1315,1337 1330,1337" fill="none" stroke="#840000" stroke-width="2" stroke-linejoin="round"/>
<text transform="translate(1310.8,1381.6) scale(0.8110691946953013,1)" x="0" y="0" font-size="23.00" fill="#008484" stroke="#008484" stroke-width="0.75" textLength="52.2" lengthAdjust="spacing" >GND</text>
<polyline points="1690,962 1690,977 1705,977 1690,992 1675,977 1690,977" fill="none" stroke="#840000" stroke-width="2" stroke-linejoin="round"/>
<text transform="translate(1670.0,1021.6) scale(0.8340782498639572,1)" x="0" y="0" font-size="23.00" fill="#008484" stroke="#008484" stroke-width="0.75" textLength="52.2" lengthAdjust="spacing" >GND</text>
<polyline points="1870,962 1870,977 1885,977 1870,992 1855,977 1870,977" fill="none" stroke="#840000" stroke-width="2" stroke-linejoin="round"/>
<text transform="translate(1850.4,1021.6) scale(0.8187388797515129,1)" x="0" y="0" font-size="23.00" fill="#008484" stroke="#008484" stroke-width="0.75" textLength="52.2" lengthAdjust="spacing" >GND</text>
<polyline points="2515,1037 2515,1052 2530,1052 2515,1067 2500,1052 2515,1052" fill="none" stroke="#840000" stroke-width="2" stroke-linejoin="round"/>
<text transform="translate(2495.5,1096.6) scale(0.8110691946953056,1)" x="0" y="0" font-size="23.00" fill="#008484" stroke="#008484" stroke-width="0.75" textLength="52.2" lengthAdjust="spacing" >GND</text>
<g id="esp32">
<defs><filter id="blur1" x="-5%" y="-5%" width="110%" height="110%"><feGaussianBlur stdDeviation="0.8"/></filter><radialGradient id="pinG" cx="45%" cy="40%" r="60%"><stop offset="0" stop-color="#bab8b2"/><stop offset="0.5" stop-color="#6e6a66"/><stop offset="1" stop-color="#3c3a38"/></radialGradient><linearGradient id="shG" x1="0" y1="0" x2="1" y2="1"><stop offset="0" stop-color="#5c4c42"/><stop offset="1" stop-color="#54443a"/></linearGradient><linearGradient id="usbG" x1="0" y1="0" x2="0" y2="1"><stop offset="0" stop-color="#cfcfcf"/><stop offset="1" stop-color="#b5b5b5"/></linearGradient></defs>
<linearGradient id="espPaper" x1="0" y1="514" x2="0" y2="1381" gradientUnits="userSpaceOnUse"><stop offset="0" stop-color="#d2d2ca"/><stop offset="0.29" stop-color="#c4c5bd"/><stop offset="0.57" stop-color="#a8a79e"/><stop offset="0.7" stop-color="#9e9e96"/><stop offset="1" stop-color="#a09e96"/></linearGradient>
<rect x="39" y="514" width="483" height="867" fill="url(#espPaper)"/>
<clipPath id="espClip"><rect x="39" y="514" width="483" height="867"/></clipPath>
<filter id="blur12" x="-30%" y="-100%" width="160%" height="300%"><feGaussianBlur stdDeviation="12"/></filter>
<g clip-path="url(#espClip)"><ellipse cx="280" cy="1372" rx="190" ry="26" fill="#6e5e54" filter="url(#blur12)" opacity="0.6"/></g>
<path d="M84,547 L207,547 L222,559 L342,559 L357,547 L485,547 Q501,547 501,563 L501,1326 Q501,1348 479,1348 L88,1348 Q66,1348 66,1326 L66,563 Q66,547 84,547 Z" fill="#161414"/>
<circle cx="100" cy="580" r="25" fill="#2c2826"/><circle cx="100" cy="580" r="22" fill="url(#espPaper)"/>
<circle cx="467" cy="580" r="25" fill="#2c2826"/><circle cx="467" cy="580" r="22" fill="url(#espPaper)"/>
<circle cx="95" cy="1309" r="25" fill="#2c2826"/><circle cx="93" cy="1311" r="23" fill="#8a8680"/><circle cx="96" cy="1308" r="22" fill="#b3b0a8"/>
<circle cx="464" cy="1308" r="25" fill="#2c2826"/><circle cx="462" cy="1310" r="23" fill="#8a8680"/><circle cx="465" cy="1307" r="22" fill="#b3b0a8"/>
<rect x="223" y="534" width="118" height="88" rx="3" fill="url(#usbG)"/>
<rect x="238" y="560" width="11" height="26" fill="#2a2a2a"/><rect x="313" y="560" width="11" height="26" fill="#2a2a2a"/>
<rect x="243" y="607" width="10" height="16" fill="#3a3a3a"/><rect x="310" y="607" width="10" height="16" fill="#3a3a3a"/>
<rect x="250" y="622" width="65" height="14" fill="#2a2624"/>
<rect x="262" y="624" width="4" height="14" fill="#5a5555"/>
<rect x="271" y="624" width="4" height="14" fill="#5a5555"/>
<rect x="280" y="624" width="4" height="14" fill="#5a5555"/>
<rect x="289" y="624" width="4" height="14" fill="#5a5555"/>
<rect x="298" y="624" width="4" height="14" fill="#5a5555"/>
<rect x="130" y="558" width="52" height="70" fill="none" stroke="#d8d8d8" stroke-width="2"/>
<rect x="136" y="561" width="41" height="64" rx="2" fill="#8c7a72"/>
<rect x="144" y="552" width="25" height="10" fill="#e8e0dc"/>
<rect x="144" y="625" width="25" height="12" fill="#a06050"/>
<circle cx="157" cy="593" r="14" fill="#30363a"/>
<rect x="378" y="558" width="52" height="70" fill="none" stroke="#d8d8d8" stroke-width="2"/>
<rect x="384" y="561" width="41" height="64" rx="2" fill="#8c7a72"/>
<rect x="392" y="552" width="25" height="10" fill="#e8e0dc"/>
<rect x="392" y="625" width="25" height="12" fill="#a06050"/>
<circle cx="405" cy="593" r="14" fill="#30363a"/>
<text transform="translate(186,566) rotate(90)" font-family="Liberation Sans" font-weight="bold" font-size="24" fill="#eeeeee" textLength="60" lengthAdjust="spacingAndGlyphs">BOOT</text>
<text transform="translate(362,585) rotate(90)" font-family="Liberation Sans" font-weight="bold" font-size="24" fill="#eeeeee" textLength="28" lengthAdjust="spacingAndGlyphs">EN</text>
<rect x="132" y="651" width="111" height="24" fill="none" stroke="#e4e4e4" stroke-width="2.2"/>
<rect x="262" y="651" width="106" height="24" fill="none" stroke="#e4e4e4" stroke-width="2.2"/>
<rect x="370" y="651" width="54" height="24" fill="none" stroke="#e4e4e4" stroke-width="2.2"/>
<rect x="137" y="655" width="46" height="16" fill="#1e1e1e"/>
<rect x="137" y="655" width="10.1" height="16" fill="#a8a8a8"/>
<rect x="172.9" y="655" width="10.1" height="16" fill="#a8a8a8"/>
<rect x="189" y="655" width="48" height="16" fill="#1e1e1e"/>
<rect x="189" y="655" width="10.6" height="16" fill="#a8a8a8"/>
<rect x="226.4" y="655" width="10.6" height="16" fill="#a8a8a8"/>
<rect x="266" y="655" width="48" height="16" fill="#6a5a4a"/>
<rect x="266" y="655" width="10.6" height="16" fill="#a8a8a8"/>
<rect x="303.4" y="655" width="10.6" height="16" fill="#a8a8a8"/>
<rect x="318" y="655" width="46" height="16" fill="#222"/>
<rect x="318" y="655" width="10.1" height="16" fill="#a8a8a8"/>
<rect x="353.9" y="655" width="10.1" height="16" fill="#a8a8a8"/>
<rect x="374" y="655" width="46" height="16" fill="#1e1e1e"/>
<rect x="374" y="655" width="10.1" height="16" fill="#a8a8a8"/>
<rect x="409.9" y="655" width="10.1" height="16" fill="#a8a8a8"/>
<rect x="152" y="692" width="80" height="83" fill="#262626"/>
<rect x="167.0" y="685" width="3" height="7" fill="#d8d8d8"/>
<rect x="167.0" y="775" width="3" height="7" fill="#9a9a9a"/>
<rect x="145" y="704.0" width="7" height="3" fill="#bdbdbd"/>
<rect x="232" y="704.0" width="7" height="3" fill="#d8d8d8"/>
<rect x="176.5" y="685" width="3" height="7" fill="#d8d8d8"/>
<rect x="176.5" y="775" width="3" height="7" fill="#9a9a9a"/>
<rect x="145" y="713.5" width="7" height="3" fill="#bdbdbd"/>
<rect x="232" y="713.5" width="7" height="3" fill="#d8d8d8"/>
<rect x="186.0" y="685" width="3" height="7" fill="#d8d8d8"/>
<rect x="186.0" y="775" width="3" height="7" fill="#9a9a9a"/>
<rect x="145" y="723.0" width="7" height="3" fill="#bdbdbd"/>
<rect x="232" y="723.0" width="7" height="3" fill="#d8d8d8"/>
<rect x="195.5" y="685" width="3" height="7" fill="#d8d8d8"/>
<rect x="195.5" y="775" width="3" height="7" fill="#9a9a9a"/>
<rect x="145" y="732.5" width="7" height="3" fill="#bdbdbd"/>
<rect x="232" y="732.5" width="7" height="3" fill="#d8d8d8"/>
<rect x="205.0" y="685" width="3" height="7" fill="#d8d8d8"/>
<rect x="205.0" y="775" width="3" height="7" fill="#9a9a9a"/>
<rect x="145" y="742.0" width="7" height="3" fill="#bdbdbd"/>
<rect x="232" y="742.0" width="7" height="3" fill="#d8d8d8"/>
<rect x="214.5" y="685" width="3" height="7" fill="#d8d8d8"/>
<rect x="214.5" y="775" width="3" height="7" fill="#9a9a9a"/>
<rect x="145" y="751.5" width="7" height="3" fill="#bdbdbd"/>
<rect x="232" y="751.5" width="7" height="3" fill="#d8d8d8"/>
<rect x="224.0" y="685" width="3" height="7" fill="#d8d8d8"/>
<rect x="224.0" y="775" width="3" height="7" fill="#9a9a9a"/>
<rect x="145" y="761.0" width="7" height="3" fill="#bdbdbd"/>
<rect x="232" y="761.0" width="7" height="3" fill="#d8d8d8"/>
<rect x="328" y="680" width="60" height="110" fill="none" stroke="#5a5a5a" stroke-width="1.5"/>
<rect x="333" y="683" width="52" height="103" fill="#222222"/>
<rect x="295" y="687" width="36" height="24" rx="3" fill="#8e8a88"/>
<rect x="321" y="693" width="12" height="12" fill="#d0d0d0"/>
<rect x="295" y="721" width="36" height="24" rx="3" fill="#8e8a88"/>
<rect x="321" y="727" width="12" height="12" fill="#d0d0d0"/>
<rect x="295" y="757" width="36" height="24" rx="3" fill="#8e8a88"/>
<rect x="321" y="763" width="12" height="12" fill="#d0d0d0"/>
<rect x="387" y="704" width="33" height="58" rx="3" fill="#bdbdbd"/>
<rect x="395" y="708" width="16" height="50" fill="#d8d8d8"/>
<rect x="133" y="792" width="24" height="54" fill="none" stroke="#e4e4e4" stroke-width="2"/>
<rect x="137" y="797" width="16" height="44" fill="#1e1e1e"/>
<rect x="137" y="797" width="16" height="9.7" fill="#b0b0b0"/>
<rect x="137" y="831.3" width="16" height="9.7" fill="#b0b0b0"/>
<rect x="166" y="798" width="12" height="12" fill="#c0c0c0"/><rect x="166" y="826" width="12" height="12" fill="#b0b0b0"/><rect x="204" y="812" width="14" height="14" fill="#c8c8c8"/>
<rect x="178" y="796" width="22" height="46" fill="#202020"/>
<rect x="252" y="812" width="14" height="14" fill="#c0c0c0"/><rect x="288" y="798" width="12" height="12" fill="#c8c8c8"/><rect x="288" y="828" width="12" height="12" fill="#c0c0c0"/>
<rect x="266" y="796" width="22" height="46" fill="#202020"/>
<rect x="308" y="790" width="24" height="56" fill="none" stroke="#e4e4e4" stroke-width="2"/>
<rect x="312" y="795" width="16" height="46" fill="#1e1e1e"/>
<rect x="312" y="795" width="16" height="10.1" fill="#b0b0b0"/>
<rect x="312" y="830.9" width="16" height="10.1" fill="#b0b0b0"/>
<rect x="341" y="797" width="81" height="37" fill="none" stroke="#e4e4e4" stroke-width="2"/>
<rect x="347" y="801" width="60" height="29" fill="#e0a85a"/>
<rect x="395" y="801" width="14" height="29" fill="#c9c9c9"/>
<rect x="132" y="852" width="55" height="23" fill="none" stroke="#e4e4e4" stroke-width="2"/>
<rect x="132" y="884" width="55" height="23" fill="none" stroke="#e4e4e4" stroke-width="2"/>
<rect x="136" y="856" width="47" height="15" fill="#1e1e1e"/>
<rect x="136" y="856" width="10.3" height="15" fill="#a8a8a8"/>
<rect x="172.7" y="856" width="10.3" height="15" fill="#a8a8a8"/>
<rect x="136" y="888" width="47" height="15" fill="#1e1e1e"/>
<rect x="136" y="888" width="10.3" height="15" fill="#a8a8a8"/>
<rect x="172.7" y="888" width="10.3" height="15" fill="#a8a8a8"/>
<rect x="195" y="851" width="166" height="56" fill="none" stroke="#e4e4e4" stroke-width="2"/>
<rect x="197.0" y="851" width="2" height="56" fill="#e4e4e4"/>
<rect x="202.0" y="857" width="14" height="45" fill="#d8d8d0"/>
<rect x="202.0" y="857" width="14" height="9.9" fill="#b0b0b0"/>
<rect x="202.0" y="892.1" width="14" height="9.9" fill="#b0b0b0"/>
<rect x="220.3" y="851" width="2" height="56" fill="#e4e4e4"/>
<rect x="225.3" y="857" width="14" height="45" fill="#222"/>
<rect x="225.3" y="857" width="14" height="9.9" fill="#b0b0b0"/>
<rect x="225.3" y="892.1" width="14" height="9.9" fill="#b0b0b0"/>
<rect x="243.6" y="851" width="2" height="56" fill="#e4e4e4"/>
<rect x="248.6" y="857" width="14" height="45" fill="#222"/>
<rect x="248.6" y="857" width="14" height="9.9" fill="#b0b0b0"/>
<rect x="248.6" y="892.1" width="14" height="9.9" fill="#b0b0b0"/>
<rect x="266.9" y="851" width="2" height="56" fill="#e4e4e4"/>
<rect x="271.9" y="857" width="14" height="45" fill="#222"/>
<rect x="271.9" y="857" width="14" height="9.9" fill="#b0b0b0"/>
<rect x="271.9" y="892.1" width="14" height="9.9" fill="#b0b0b0"/>
<rect x="290.2" y="851" width="2" height="56" fill="#e4e4e4"/>
<rect x="295.2" y="857" width="14" height="45" fill="#222"/>
<rect x="295.2" y="857" width="14" height="9.9" fill="#b0b0b0"/>
<rect x="295.2" y="892.1" width="14" height="9.9" fill="#b0b0b0"/>
<rect x="313.5" y="851" width="2" height="56" fill="#e4e4e4"/>
<rect x="318.5" y="857" width="14" height="45" fill="#222"/>
<rect x="318.5" y="857" width="14" height="9.9" fill="#b0b0b0"/>
<rect x="318.5" y="892.1" width="14" height="9.9" fill="#b0b0b0"/>
<rect x="336.8" y="851" width="2" height="56" fill="#e4e4e4"/>
<rect x="341.8" y="857" width="14" height="45" fill="#d8d8d0"/>
<rect x="341.8" y="857" width="14" height="9.9" fill="#b0b0b0"/>
<rect x="341.8" y="892.1" width="14" height="9.9" fill="#b0b0b0"/>
<rect x="367" y="852" width="56" height="23" fill="none" stroke="#e4e4e4" stroke-width="2"/>
<rect x="367" y="884" width="56" height="23" fill="none" stroke="#e4e4e4" stroke-width="2"/>
<rect x="371" y="856" width="48" height="15" fill="#6a5a4a"/>
<rect x="371" y="856" width="10.6" height="15" fill="#a8a8a8"/>
<rect x="408.4" y="856" width="10.6" height="15" fill="#a8a8a8"/>
<rect x="371" y="888" width="48" height="15" fill="#8a7a6a"/>
<rect x="371" y="888" width="10.6" height="15" fill="#a8a8a8"/>
<rect x="408.4" y="888" width="10.6" height="15" fill="#a8a8a8"/>
<rect x="138" y="938" width="286" height="300" fill="#2a1f1c"/>
<rect x="132" y="936" width="298" height="410" fill="none" stroke="#d8d8d8" stroke-width="1.5"/>
<rect x="186.0" y="920" width="12" height="22" rx="2" fill="#8a7e80"/>
<circle cx="192.0" cy="941" r="4.5" fill="#f0e8e8"/>
<rect x="205.9" y="920" width="12" height="22" rx="2" fill="#8a7e80"/>
<circle cx="211.9" cy="941" r="4.5" fill="#f0e8e8"/>
<rect x="225.8" y="920" width="12" height="22" rx="2" fill="#8a7e80"/>
<circle cx="231.8" cy="941" r="4.5" fill="#f0e8e8"/>
<rect x="245.7" y="920" width="12" height="22" rx="2" fill="#8a7e80"/>
<circle cx="251.7" cy="941" r="4.5" fill="#f0e8e8"/>
<rect x="265.6" y="920" width="12" height="22" rx="2" fill="#8a7e80"/>
<circle cx="271.6" cy="941" r="4.5" fill="#f0e8e8"/>
<rect x="285.5" y="920" width="12" height="22" rx="2" fill="#8a7e80"/>
<circle cx="291.5" cy="941" r="4.5" fill="#f0e8e8"/>
<rect x="305.4" y="920" width="12" height="22" rx="2" fill="#8a7e80"/>
<circle cx="311.4" cy="941" r="4.5" fill="#f0e8e8"/>
<rect x="325.3" y="920" width="12" height="22" rx="2" fill="#8a7e80"/>
<circle cx="331.3" cy="941" r="4.5" fill="#f0e8e8"/>
<rect x="345.2" y="920" width="12" height="22" rx="2" fill="#8a7e80"/>
<circle cx="351.2" cy="941" r="4.5" fill="#f0e8e8"/>
<rect x="365.1" y="920" width="12" height="22" rx="2" fill="#8a7e80"/>
<circle cx="371.1" cy="941" r="4.5" fill="#f0e8e8"/>
<rect x="123" y="959.0" width="20" height="11" fill="#7a6c6c"/>
<rect x="418" y="959.0" width="21" height="11" fill="#7a6c6c"/>
<rect x="123" y="978.8" width="20" height="11" fill="#7a6c6c"/>
<rect x="418" y="978.8" width="21" height="11" fill="#7a6c6c"/>
<rect x="123" y="998.6" width="20" height="11" fill="#7a6c6c"/>
<rect x="418" y="998.6" width="21" height="11" fill="#7a6c6c"/>
<rect x="123" y="1018.4" width="20" height="11" fill="#7a6c6c"/>
<rect x="418" y="1018.4" width="21" height="11" fill="#7a6c6c"/>
<rect x="123" y="1038.2" width="20" height="11" fill="#7a6c6c"/>
<rect x="418" y="1038.2" width="21" height="11" fill="#7a6c6c"/>
<rect x="123" y="1058.0" width="20" height="11" fill="#7a6c6c"/>
<rect x="418" y="1058.0" width="21" height="11" fill="#7a6c6c"/>
<rect x="123" y="1077.8" width="20" height="11" fill="#7a6c6c"/>
<rect x="418" y="1077.8" width="21" height="11" fill="#7a6c6c"/>
<rect x="123" y="1097.6" width="20" height="11" fill="#7a6c6c"/>
<rect x="418" y="1097.6" width="21" height="11" fill="#7a6c6c"/>
<rect x="123" y="1117.4" width="20" height="11" fill="#7a6c6c"/>
<rect x="418" y="1117.4" width="21" height="11" fill="#7a6c6c"/>
<rect x="123" y="1137.2" width="20" height="11" fill="#7a6c6c"/>
<rect x="418" y="1137.2" width="21" height="11" fill="#7a6c6c"/>
<rect x="123" y="1157.0" width="20" height="11" fill="#7a6c6c"/>
<rect x="418" y="1157.0" width="21" height="11" fill="#7a6c6c"/>
<rect x="123" y="1176.8" width="20" height="11" fill="#7a6c6c"/>
<rect x="418" y="1176.8" width="21" height="11" fill="#7a6c6c"/>
<rect x="123" y="1196.6" width="20" height="11" fill="#7a6c6c"/>
<rect x="418" y="1196.6" width="21" height="11" fill="#7a6c6c"/>
<rect x="123" y="1216.4" width="20" height="11" fill="#7a6c6c"/>
<rect x="418" y="1216.4" width="21" height="11" fill="#7a6c6c"/>
<rect x="138" y="945" width="14" height="292" fill="#4a3530"/><rect x="406" y="945" width="18" height="292" fill="#4a3530"/>
<rect x="152" y="954" width="254" height="280" rx="3" fill="url(#shG)"/>
<rect x="155" y="955" width="248" height="5" fill="#b0a8a0" opacity="0.7"/>
<circle cx="369" cy="987" r="8" fill="#c9c0b8"/><circle cx="369" cy="987" r="5.5" fill="#121010"/>
<g fill="none" stroke="#9c9086" stroke-width="2">
<ellipse cx="344" cy="1152" rx="28" ry="25"/>
<circle cx="330" cy="1073" r="22"/>
<path d="M314,1068 L346,1068 M314,1076 L346,1076 M330,1060 L330,1086"/>
<rect x="274" y="1062" width="26" height="21"/>
<path d="M268,1095 A17,17 0 0 0 268,1129"/><path d="M300,1095 A17,17 0 0 0 300,1129"/><path d="M255,1112 L268,1112"/>
</g>
<circle cx="210" cy="1113" r="21" fill="#9c9086" opacity="0.9"/>
<path d="M192,1100 Q210,1095 228,1104" stroke="#5a4a40" stroke-width="2" fill="none"/>
<path d="M195,1108 Q210,1103 226,1112" stroke="#5a4a40" stroke-width="2" fill="none"/>
<path d="M198,1116 Q210,1111 224,1120" stroke="#5a4a40" stroke-width="2" fill="none"/>
<path d="M201,1124 Q210,1119 222,1128" stroke="#5a4a40" stroke-width="2" fill="none"/>
<text transform="translate(318,1144) rotate(180)" font-family="Liberation Sans" font-weight="bold" font-size="19" fill="#9c9086" textLength="143" lengthAdjust="spacingAndGlyphs">ESP-WROOM-32</text>
<text transform="translate(352,1037) rotate(180)" font-family="Liberation Sans" font-weight="bold" font-size="13" fill="#9c9086" textLength="177" lengthAdjust="spacingAndGlyphs">FCC ID:2AC7Z-ESPWROOM32</text>
<text transform="translate(268,1067) rotate(180)" font-family="Liberation Sans" font-weight="bold" font-size="14" fill="#9c9086" textLength="74" lengthAdjust="spacingAndGlyphs">211-161007</text>
<text transform="translate(295,1065) rotate(180)" font-family="Liberation Sans" font-weight="bold" font-size="20" fill="#9c9086">R</text>
<rect x="138" y="1236" width="286" height="108" fill="#161414"/>
<circle cx="169" cy="1251" r="3" fill="#8a4a3a"/><circle cx="185" cy="1251" r="3" fill="#8a4a3a"/>
<circle cx="83" cy="696.0" r="12.5" fill="#3a3636"/>
<circle cx="83" cy="696.0" r="11" fill="url(#pinG)"/>
<circle cx="480.5" cy="692.0" r="12.5" fill="#3a3636"/>
<circle cx="480.5" cy="692.0" r="11" fill="url(#pinG)"/>
<circle cx="83" cy="735.8" r="12.5" fill="#3a3636"/>
<circle cx="83" cy="735.8" r="11" fill="url(#pinG)"/>
<circle cx="480.5" cy="731.8" r="12.5" fill="#3a3636"/>
<circle cx="480.5" cy="731.8" r="11" fill="url(#pinG)"/>
<circle cx="83" cy="775.6" r="12.5" fill="#3a3636"/>
<circle cx="83" cy="775.6" r="11" fill="url(#pinG)"/>
<circle cx="480.5" cy="771.6" r="12.5" fill="#3a3636"/>
<circle cx="480.5" cy="771.6" r="11" fill="url(#pinG)"/>
<circle cx="83" cy="815.4" r="12.5" fill="#3a3636"/>
<circle cx="83" cy="815.4" r="11" fill="url(#pinG)"/>
<circle cx="480.5" cy="811.4" r="12.5" fill="#3a3636"/>
<circle cx="480.5" cy="811.4" r="11" fill="url(#pinG)"/>
<circle cx="83" cy="855.2" r="12.5" fill="#3a3636"/>
<circle cx="83" cy="855.2" r="11" fill="url(#pinG)"/>
<circle cx="480.5" cy="851.2" r="12.5" fill="#3a3636"/>
<circle cx="480.5" cy="851.2" r="11" fill="url(#pinG)"/>
<circle cx="83" cy="895.0" r="12.5" fill="#3a3636"/>
<circle cx="83" cy="895.0" r="11" fill="url(#pinG)"/>
<circle cx="480.5" cy="891.0" r="12.5" fill="#3a3636"/>
<circle cx="480.5" cy="891.0" r="11" fill="url(#pinG)"/>
<circle cx="83" cy="934.8" r="12.5" fill="#3a3636"/>
<circle cx="83" cy="934.8" r="11" fill="url(#pinG)"/>
<circle cx="480.5" cy="930.8" r="12.5" fill="#3a3636"/>
<circle cx="480.5" cy="930.8" r="11" fill="url(#pinG)"/>
<circle cx="83" cy="974.6" r="12.5" fill="#3a3636"/>
<circle cx="83" cy="974.6" r="11" fill="url(#pinG)"/>
<circle cx="480.5" cy="970.6" r="12.5" fill="#3a3636"/>
<circle cx="480.5" cy="970.6" r="11" fill="url(#pinG)"/>
<circle cx="83" cy="1014.4" r="12.5" fill="#3a3636"/>
<circle cx="83" cy="1014.4" r="11" fill="url(#pinG)"/>
<circle cx="480.5" cy="1010.4" r="12.5" fill="#3a3636"/>
<circle cx="480.5" cy="1010.4" r="11" fill="url(#pinG)"/>
<circle cx="83" cy="1054.2" r="12.5" fill="#3a3636"/>
<circle cx="83" cy="1054.2" r="11" fill="url(#pinG)"/>
<circle cx="480.5" cy="1050.2" r="12.5" fill="#3a3636"/>
<circle cx="480.5" cy="1050.2" r="11" fill="url(#pinG)"/>
<circle cx="83" cy="1094.0" r="12.5" fill="#3a3636"/>
<circle cx="83" cy="1094.0" r="11" fill="url(#pinG)"/>
<circle cx="480.5" cy="1090.0" r="12.5" fill="#3a3636"/>
<circle cx="480.5" cy="1090.0" r="11" fill="url(#pinG)"/>
<circle cx="83" cy="1133.8" r="12.5" fill="#3a3636"/>
<circle cx="83" cy="1133.8" r="11" fill="url(#pinG)"/>
<circle cx="480.5" cy="1129.8" r="12.5" fill="#3a3636"/>
<circle cx="480.5" cy="1129.8" r="11" fill="url(#pinG)"/>
<circle cx="83" cy="1173.6" r="12.5" fill="#3a3636"/>
<circle cx="83" cy="1173.6" r="11" fill="url(#pinG)"/>
<circle cx="480.5" cy="1169.6" r="12.5" fill="#3a3636"/>
<circle cx="480.5" cy="1169.6" r="11" fill="url(#pinG)"/>
<circle cx="83" cy="1213.4" r="12.5" fill="#3a3636"/>
<circle cx="83" cy="1213.4" r="11" fill="url(#pinG)"/>
<circle cx="480.5" cy="1209.4" r="12.5" fill="#3a3636"/>
<circle cx="480.5" cy="1209.4" r="11" fill="url(#pinG)"/>
<circle cx="83" cy="1253.2" r="12.5" fill="#3a3636"/>
<circle cx="83" cy="1253.2" r="11" fill="url(#pinG)"/>
<circle cx="480.5" cy="1249.2" r="12.5" fill="#3a3636"/>
<circle cx="480.5" cy="1249.2" r="11" fill="url(#pinG)"/>
<text transform="translate(102,680.0) rotate(90)" font-family="Liberation Sans" font-weight="bold" font-size="23" fill="#f2f2f2" textLength="36.0" lengthAdjust="spacingAndGlyphs">3V3</text>
<text transform="translate(102,719.8) rotate(90)" font-family="Liberation Sans" font-weight="bold" font-size="23" fill="#f2f2f2" textLength="36.0" lengthAdjust="spacingAndGlyphs">GND</text>
<text transform="translate(102,759.6) rotate(90)" font-family="Liberation Sans" font-weight="bold" font-size="23" fill="#f2f2f2" textLength="36.0" lengthAdjust="spacingAndGlyphs">D15</text>
<text transform="translate(102,804.4) rotate(90)" font-family="Liberation Sans" font-weight="bold" font-size="23" fill="#f2f2f2" textLength="26.0" lengthAdjust="spacingAndGlyphs">D2</text>
<text transform="translate(102,844.2) rotate(90)" font-family="Liberation Sans" font-weight="bold" font-size="23" fill="#f2f2f2" textLength="26.0" lengthAdjust="spacingAndGlyphs">D4</text>
<text transform="translate(102,879.0) rotate(90)" font-family="Liberation Sans" font-weight="bold" font-size="23" fill="#f2f2f2" textLength="36.0" lengthAdjust="spacingAndGlyphs">RX2</text>
<text transform="translate(102,918.8) rotate(90)" font-family="Liberation Sans" font-weight="bold" font-size="23" fill="#f2f2f2" textLength="36.0" lengthAdjust="spacingAndGlyphs">TX2</text>
<text transform="translate(102,963.6) rotate(90)" font-family="Liberation Sans" font-weight="bold" font-size="23" fill="#f2f2f2" textLength="26.0" lengthAdjust="spacingAndGlyphs">D5</text>
<text transform="translate(102,998.4) rotate(90)" font-family="Liberation Sans" font-weight="bold" font-size="23" fill="#f2f2f2" textLength="36.0" lengthAdjust="spacingAndGlyphs">D18</text>
<text transform="translate(102,1038.2) rotate(90)" font-family="Liberation Sans" font-weight="bold" font-size="23" fill="#f2f2f2" textLength="36.0" lengthAdjust="spacingAndGlyphs">D19</text>
<text transform="translate(102,1078.0) rotate(90)" font-family="Liberation Sans" font-weight="bold" font-size="23" fill="#f2f2f2" textLength="36.0" lengthAdjust="spacingAndGlyphs">D21</text>
<text transform="translate(102,1117.8) rotate(90)" font-family="Liberation Sans" font-weight="bold" font-size="23" fill="#f2f2f2" textLength="36.0" lengthAdjust="spacingAndGlyphs">RX0</text>
<text transform="translate(102,1157.6) rotate(90)" font-family="Liberation Sans" font-weight="bold" font-size="23" fill="#f2f2f2" textLength="36.0" lengthAdjust="spacingAndGlyphs">TX0</text>
<text transform="translate(102,1197.4) rotate(90)" font-family="Liberation Sans" font-weight="bold" font-size="23" fill="#f2f2f2" textLength="36.0" lengthAdjust="spacingAndGlyphs">D22</text>
<text transform="translate(102,1237.2) rotate(90)" font-family="Liberation Sans" font-weight="bold" font-size="23" fill="#f2f2f2" textLength="36.0" lengthAdjust="spacingAndGlyphs">D23</text>
<text transform="translate(442,676.0) rotate(90)" font-family="Liberation Sans" font-weight="bold" font-size="23" fill="#f2f2f2" textLength="36.0" lengthAdjust="spacingAndGlyphs">VIN</text>
<text transform="translate(442,715.8) rotate(90)" font-family="Liberation Sans" font-weight="bold" font-size="23" fill="#f2f2f2" textLength="36.0" lengthAdjust="spacingAndGlyphs">GND</text>
<text transform="translate(442,755.6) rotate(90)" font-family="Liberation Sans" font-weight="bold" font-size="23" fill="#f2f2f2" textLength="36.0" lengthAdjust="spacingAndGlyphs">D13</text>
<text transform="translate(442,795.4) rotate(90)" font-family="Liberation Sans" font-weight="bold" font-size="23" fill="#f2f2f2" textLength="36.0" lengthAdjust="spacingAndGlyphs">D12</text>
<text transform="translate(442,835.2) rotate(90)" font-family="Liberation Sans" font-weight="bold" font-size="23" fill="#f2f2f2" textLength="36.0" lengthAdjust="spacingAndGlyphs">D14</text>
<text transform="translate(442,875.0) rotate(90)" font-family="Liberation Sans" font-weight="bold" font-size="23" fill="#f2f2f2" textLength="36.0" lengthAdjust="spacingAndGlyphs">D27</text>
<text transform="translate(442,914.8) rotate(90)" font-family="Liberation Sans" font-weight="bold" font-size="23" fill="#f2f2f2" textLength="36.0" lengthAdjust="spacingAndGlyphs">D26</text>
<text transform="translate(442,954.6) rotate(90)" font-family="Liberation Sans" font-weight="bold" font-size="23" fill="#f2f2f2" textLength="36.0" lengthAdjust="spacingAndGlyphs">D25</text>
<text transform="translate(442,994.4) rotate(90)" font-family="Liberation Sans" font-weight="bold" font-size="23" fill="#f2f2f2" textLength="36.0" lengthAdjust="spacingAndGlyphs">D33</text>
<text transform="translate(442,1034.2) rotate(90)" font-family="Liberation Sans" font-weight="bold" font-size="23" fill="#f2f2f2" textLength="36.0" lengthAdjust="spacingAndGlyphs">D32</text>
<text transform="translate(442,1074.0) rotate(90)" font-family="Liberation Sans" font-weight="bold" font-size="23" fill="#f2f2f2" textLength="36.0" lengthAdjust="spacingAndGlyphs">D35</text>
<text transform="translate(442,1113.8) rotate(90)" font-family="Liberation Sans" font-weight="bold" font-size="23" fill="#f2f2f2" textLength="36.0" lengthAdjust="spacingAndGlyphs">D34</text>
<text transform="translate(442,1158.6) rotate(90)" font-family="Liberation Sans" font-weight="bold" font-size="23" fill="#f2f2f2" textLength="26.0" lengthAdjust="spacingAndGlyphs">VN</text>
<text transform="translate(442,1198.4) rotate(90)" font-family="Liberation Sans" font-weight="bold" font-size="23" fill="#f2f2f2" textLength="26.0" lengthAdjust="spacingAndGlyphs">VP</text>
<text transform="translate(442,1238.2) rotate(90)" font-family="Liberation Sans" font-weight="bold" font-size="23" fill="#f2f2f2" textLength="26.0" lengthAdjust="spacingAndGlyphs">EN</text>
</g>
<g id="tja">
<defs><filter id="blur3" x="-10%" y="-30%" width="120%" height="160%"><feGaussianBlur stdDeviation="2.5"/></filter><radialGradient id="padG" cx="50%" cy="50%" r="50%"><stop offset="0" stop-color="#6e645e"/><stop offset="0.7" stop-color="#7a706a"/><stop offset="0.85" stop-color="#c8c0b8"/><stop offset="1" stop-color="#8a8078"/></radialGradient><radialGradient id="holeG" cx="50%" cy="50%" r="50%"><stop offset="0" stop-color="#5e5440"/><stop offset="0.8" stop-color="#6a5e4a"/><stop offset="0.9" stop-color="#b8b0a0"/><stop offset="1" stop-color="#7a7060"/></radialGradient></defs>
<linearGradient id="tjaPaper" x1="0" y1="0" x2="0" y2="1"><stop offset="0" stop-color="#cecfc6"/><stop offset="1" stop-color="#adada3"/></linearGradient>
<rect x="1840" y="1109" width="361" height="247" fill="url(#tjaPaper)"/>
<rect x="1866" y="1282" width="313" height="44" rx="10" fill="#4b4039" filter="url(#blur3)"/>
<rect x="1863" y="1128" width="321" height="163" fill="#0d2c5e"/>
<rect x="1863" y="1128" width="321" height="163" fill="none" stroke="#d8e8f0" stroke-width="1.5" opacity="0.6"/>
<rect x="1865" y="1132" width="34" height="152" fill="none" stroke="#a8cfe2" stroke-width="2"/>
<circle cx="1878.3" cy="1152.5" r="11.5" fill="url(#padG)"/>
<circle cx="1878.3" cy="1190.4" r="11.5" fill="url(#padG)"/>
<circle cx="1878.3" cy="1227.8" r="11.5" fill="url(#padG)"/>
<rect x="1867" y="1253.7" width="24" height="24" fill="#7a706a"/>
<circle cx="1878.3" cy="1265.7" r="11.5" fill="url(#padG)"/>
<text transform="translate(1902,1133) rotate(90)" font-family="Liberation Sans" font-size="19" fill="#a8cfe2" textLength="150" lengthAdjust="spacingAndGlyphs">UCC TX   RX GND</text>
<text x="1922" y="1159" font-family="Liberation Sans" font-weight="bold" font-size="19" fill="#a8cfe2" textLength="22" lengthAdjust="spacingAndGlyphs">C5</text>
<text x="1922" y="1194" font-family="Liberation Sans" font-weight="bold" font-size="19" fill="#a8cfe2" textLength="22" lengthAdjust="spacingAndGlyphs">C3</text>
<rect x="1949" y="1131" width="70" height="72" fill="none" stroke="#a8cfe2" stroke-width="2"/>
<line x1="1949" y1="1168" x2="2019" y2="1168" stroke="#a8cfe2" stroke-width="4"/>
<rect x="1955" y="1139" width="59" height="21" fill="#8e8680"/><rect x="1967" y="1140" width="34" height="19" fill="#d0c8c0"/>
<rect x="1955" y="1175" width="59" height="22" fill="#8e8680"/><rect x="1967" y="1176" width="34" height="20" fill="#a08070"/>
<rect x="1919" y="1214.7" width="28" height="8" rx="3" fill="#b8b8b8"/>
<rect x="2001" y="1214.7" width="28" height="8" rx="3" fill="#b8b8b8"/>
<rect x="1919" y="1232.8" width="28" height="8" rx="3" fill="#b8b8b8"/>
<rect x="2001" y="1232.8" width="28" height="8" rx="3" fill="#b8b8b8"/>
<rect x="1919" y="1252.0" width="28" height="8" rx="3" fill="#b8b8b8"/>
<rect x="2001" y="1252.0" width="28" height="8" rx="3" fill="#b8b8b8"/>
<rect x="1919" y="1271.3" width="28" height="8" rx="3" fill="#b8b8b8"/>
<rect x="2001" y="1271.3" width="28" height="8" rx="3" fill="#b8b8b8"/>
<rect x="1946" y="1210" width="56" height="78" rx="2" fill="#2b2b2b"/>
<rect x="2048" y="1131" width="73" height="34" fill="none" stroke="#a8cfe2" stroke-width="2"/>
<rect x="2048" y="1176" width="73" height="110" fill="none" stroke="#a8cfe2" stroke-width="2"/>
<line x1="2048" y1="1213" x2="2121" y2="1213" stroke="#a8cfe2" stroke-width="3"/>
<line x1="2048" y1="1250" x2="2121" y2="1250" stroke="#a8cfe2" stroke-width="3"/>
<rect x="2053" y="1139" width="59" height="21" fill="#8e8a88"/>
<rect x="2066" y="1139" width="33" height="21" fill="#151515"/>
<rect x="2053" y="1184" width="59" height="21" fill="#8e8a88"/>
<rect x="2066" y="1184" width="33" height="21" fill="#151515"/>
<rect x="2053" y="1222" width="59" height="21" fill="#8e8a88"/>
<rect x="2066" y="1222" width="33" height="21" fill="#151515"/>
<rect x="2053" y="1259" width="59" height="22" fill="#8e8a88"/>
<rect x="2066" y="1259" width="33" height="22" fill="#dcd4cc"/>
<text x="2030" y="1150" font-family="Liberation Sans" font-size="15" fill="#a8cfe2">R3</text>
<text x="2030" y="1195" font-family="Liberation Sans" font-size="15" fill="#a8cfe2">R2</text>
<text transform="translate(2130,1162) rotate(90)" font-family="Liberation Sans" font-size="19" fill="#a8cfe2" textLength="98" lengthAdjust="spacingAndGlyphs">CANHCANL</text>
<circle cx="2160.5" cy="1146" r="16" fill="url(#holeG)"/>
<circle cx="2161" cy="1273" r="16" fill="url(#holeG)"/>
<rect x="2146" y="1171" width="36" height="73" fill="none" stroke="#a8cfe2" stroke-width="2"/>
<rect x="2152" y="1177" width="22" height="22" fill="#8a8078"/>
<circle cx="2163" cy="1188" r="10" fill="url(#padG)"/>
<circle cx="2163.8" cy="1228" r="11" fill="url(#padG)"/>
</g>
<g id="pd">
<path d="M2263.5,1681 L2263.5,1513.7 Q2263.5,1505.7 2271.5,1505.7 L2758.4,1505.7 Q2766.4,1505.7 2766.4,1513.7 L2766.4,1679 L2263.5,1679 Z" fill="#fff" stroke="#000" stroke-width="4"/>
<path d="M2402.3,1527 L2766,1527 L2766,1654 L2404.5,1654 A86,86 0 0 0 2402.3,1527 Z" fill="#000"/>
<circle cx="2346" cy="1592.4" r="61.2" fill="none" stroke="#000" stroke-width="12"/>
<ellipse cx="2346" cy="1592.8" rx="27.8" ry="39.3" fill="#000"/>
<clipPath id="zh"><ellipse cx="2346" cy="1592.3" rx="12" ry="24.4"/></clipPath>
<g clip-path="url(#zh)">
<rect x="2330" y="1565" width="32" height="55" fill="#fff"/>
<line x1="2337" y1="1605.7" x2="2337" y2="1605.7" stroke="#000"/>
<path d="M2324.3,1628.9 L2358.8,1566 " stroke="#000" stroke-width="11" fill="none"/>
</g>
<text x="2451.5" y="1584.1" font-family="Liberation Sans" font-weight="bold" font-size="54.5" fill="#fff" textLength="200" lengthAdjust="spacingAndGlyphs">PUBLIC</text>
<text x="2451.5" y="1634.5" font-family="Liberation Sans" font-weight="bold" font-size="54.5" fill="#fff" textLength="220.5" lengthAdjust="spacingAndGlyphs">DOMAIN</text>
</g>

</svg></body></html>
